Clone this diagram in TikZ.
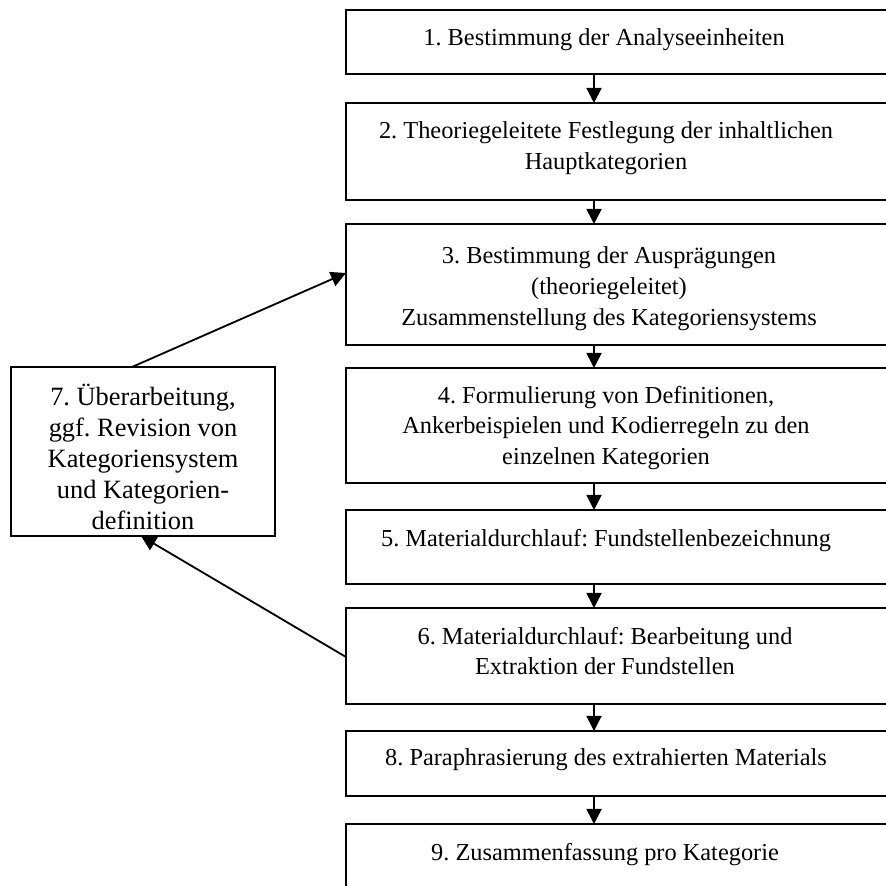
\documentclass[tikz,border=0pt]{standalone}
\usepackage{fontspec}
\setmainfont{Liberation Serif}
\usetikzlibrary{arrows.meta}
\frenchspacing

\begin{document}
\begin{tikzpicture}[x=0.4926pt,y=-0.4926pt,
    box/.style={draw,line width=0.9pt,inner sep=0pt},
    txt/.style={align=center,font=\fontsize{12}{15.2}\selectfont,inner sep=0pt},
    arr/.style={line width=0.9pt,-{Triangle[width=7.4pt,length=7.4pt]}}]
    \useasboundingbox (0,0) rectangle (886,886);
    \clip (0,0) rectangle (886,886);
    \coordinate (ax) at (594,0);
    % right column
    \draw [box] (346,10) rectangle (900,74) node[pos=0.5,name=b1]{};
    \draw [box] (346,103) rectangle (900,200) node[pos=0.5,name=b2]{};
    \draw [box] (346,224) rectangle (900,345) node[pos=0.5,name=b3]{};
    \draw [box] (346,368) rectangle (900,483) node[pos=0.5,name=b4]{};
    \draw [box] (346,510) rectangle (900,584) node[pos=0.5,name=b5]{};
    \draw [box] (346,608) rectangle (900,704) node[pos=0.5,name=b6]{};
    \draw [box] (346,731) rectangle (900,796) node[pos=0.5,name=b8]{};
    \draw [box] (346,824) rectangle (900,930) node[pos=0.5,name=b9]{};
    % left box
    \draw [box] (11,367) rectangle (275,536) node[pos=0.5,name=b7]{};
    \node [txt] (t1) at (604,40) {1. Bestimmung der Analyseeinheiten};
    \node [txt] (t2) at (606,148) {2. Theoriegeleitete Festlegung der inhaltlichen\\Hauptkategorien};
    \node [txt] (t3) at (609,289) {3. Bestimmung der Ausprägungen\\(theoriegeleitet)\\Zusammenstellung des Kategoriensystems};
    \node [txt] (t4) at (606,428) {4. Formulierung von Definitionen,\\Ankerbeispielen und Kodierregeln zu den\\einzelnen Kategorien};
    \node [txt] (t5) at (606,541) {5. Materialdurchlauf: Fundstellenbezeichnung};
    \node [txt] (t6) at (605,651) {6. Materialdurchlauf: Bearbeitung und\\Extraktion der Fundstellen};
    \node [txt] (t8) at (606,760) {8. Paraphrasierung des extrahierten Materials};
    \node [txt] (t9) at (605,855) {9. Zusammenfassung pro Kategorie};
    \node [txt,font=\fontsize{13}{15.2}\selectfont] (t7) at (143,457) {7. Überarbeitung,\\ggf. Revision von\\Kategoriensystem\\und Kategorien-\\definition};
    % arrows
    \draw [arr] (ax |- 0,74) -- (ax |- 0,103);
    \draw [arr] (ax |- 0,200) -- (ax |- 0,224);
    \draw [arr] (ax |- 0,345) -- (ax |- 0,368);
    \draw [arr] (ax |- 0,483) -- (ax |- 0,510);
    \draw [arr] (ax |- 0,584) -- (ax |- 0,608);
    \draw [arr] (ax |- 0,704) -- (ax |- 0,731);
    \draw [arr] (ax |- 0,796) -- (ax |- 0,824);
    \draw [arr] (132,367) -- (346,273);
    \draw [arr] (346,657) -- (141,536);
\end{tikzpicture}
\end{document}
